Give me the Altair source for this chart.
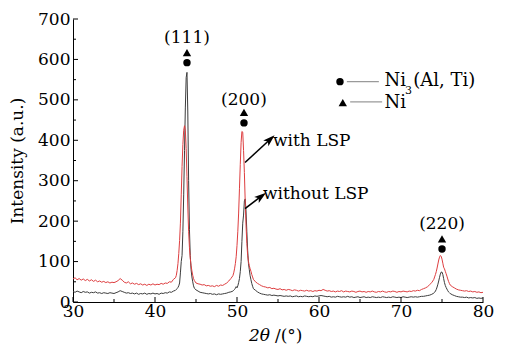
import altair as alt
import pandas as pd

# ---------------- data ----------------
# Each curve is stored in segments: (start angle, step, intensities)
red_a = [57, 60, 55, 58, 54, 57, 53, 56, 52, 55, 51, 54, 50, 52, 49, 51, 48, 50, 47, 49,
         48, 50, 53, 58, 54, 49, 47, 50, 45, 47, 44, 46, 43, 45, 42, 44, 41, 44, 42, 45,
         42, 44, 43, 46, 44, 47, 46, 50, 49, 56, 60]
red_b = [66, 78, 95, 120, 152, 195, 265, 335, 390, 425, 436, 425, 380, 310, 235, 175,
         135, 108, 90, 77, 66, 58, 53]
red_c = [47, 45, 44, 42, 43, 40, 41, 39, 40, 38, 41, 39, 42, 41, 44, 47, 52, 58, 65]
red_d = [72, 82, 95, 112, 140, 175, 220, 280, 340, 395, 422, 420, 375, 320, 250, 190,
         145, 115, 100, 90, 82, 76, 68, 62, 56]
red_e = [50, 46, 43, 40, 38, 37, 35, 36, 33, 34, 32, 31, 33, 30, 31, 29, 31, 30, 28, 30,
         29, 27, 29, 28, 27, 29, 27, 28, 26, 28, 27, 29, 28, 31, 29, 27, 28, 26, 27, 25,
         27, 26, 28, 25, 27, 26, 25, 27, 26, 24, 26, 27, 25, 26, 24, 26, 25, 27, 25, 24,
         26, 25, 27, 25, 24, 26, 25, 27, 26, 24, 26, 25, 27, 26, 25, 27, 26, 28, 27, 29,
         28, 31, 33, 35, 38, 43, 48, 56]
red_f = [62, 68, 75, 84, 94, 104, 111, 115, 113, 106, 96, 86, 82, 76, 70, 64, 57, 51, 46]
red_g = [42, 38, 35, 32, 30, 29, 28, 27, 28, 26, 27, 25, 26, 24, 25, 23, 24]

gray_a = [26, 24, 27, 25, 23, 26, 24, 25, 22, 24, 23, 25, 22, 23, 21, 23, 22, 21, 23, 22,
          21, 23, 25, 28, 26, 24, 22, 23, 21, 22, 20, 22, 19, 21, 20, 22, 19, 21, 20, 22,
          20, 21, 19, 22, 21, 23, 22, 25, 24, 27, 29]
gray_b = [31, 33, 36, 40, 47, 72, 100, 115, 175, 265, 375, 480, 555, 568, 470, 300,
          180, 115, 80, 62, 50, 40, 34]
gray_c = [30, 27, 24, 23, 22, 21, 20, 21, 19, 20, 18, 20, 19, 20, 21, 22, 24, 25, 27]
gray_d = [29, 31, 34, 38, 35, 40, 48, 58, 75, 100, 150, 195, 215, 250, 255, 225,
          175, 128, 95, 80, 65, 55, 46, 39, 33]
gray_e = [29, 25, 22, 20, 19, 18, 17, 18, 16, 17, 16, 15, 16, 15, 14, 15, 14, 15, 13, 14,
          15, 13, 14, 13, 15, 14, 13, 14, 13, 15, 14, 15, 16, 15, 14, 13, 14, 12, 13, 12,
          14, 13, 12, 13, 12, 14, 12, 13, 11, 12, 13, 11, 12, 13, 11, 12, 11, 13, 12, 11,
          12, 11, 13, 12, 11, 12, 11, 13, 12, 11, 12, 11, 13, 12, 11, 12, 13, 12, 13, 12,
          13, 14, 14, 15, 16, 17, 19, 22]
gray_f = [24, 27, 31, 37, 44, 52, 61, 69, 74, 74, 68, 58, 48, 41, 36, 32, 28, 25, 23]
gray_g = [21, 18, 16, 14, 13, 12, 12, 11, 12, 10, 11, 10, 11, 9, 10, 9, 10]

seg_starts = [30.0, 42.6, 45.0, 49.6, 52.25, 74.1, 76.0]
seg_steps = [0.25, 0.1, 0.25, 0.1, 0.25, 0.1, 0.25]

# peak labels and phase markers
peak_labels = ["(111)", "(200)", "(220)"]
peak_angle = [43.9, 50.85, 75.0]
label_int = [652, 500, 194]
tri_int = [617, 469, 156]
circ_int = [592, 443, 131]

# legend
legend_names = ["Ni", "Ni"]
legend_angle_sym = [62.56, 62.9]
legend_int = [545, 493]

# arrows (tail -> head) and their texts
arrow_x = [50.98, 50.98]
arrow_y = [345, 231]
arrow_x2 = [54.02, 52.93]
arrow_y2 = [402, 261]
arrow_rot = [47, 53]
arrow_text = ["with LSP", "without LSP"]
arrow_text_x = [54.39, 53.17]
arrow_text_y = [399, 268]

y_major = [0, 100, 200, 300, 400, 500, 600, 700]
y_minor = [50, 150, 250, 350, 450, 550, 650]
x_major = [30, 40, 50, 60, 70, 80]
x_minor = [35, 45, 55, 65, 75]

# ---------------- build tables ----------------
def build(segs, name):
    rows = []
    for start, step, vals in zip(seg_starts, seg_steps, segs):
        for i, v in enumerate(vals):
            rows.append({"angle": round(start + i * step, 3), "intensity": v, "series": name})
    return rows

red_df = pd.DataFrame(build([red_a, red_b, red_c, red_d, red_e, red_f, red_g], "with LSP"))
gray_df = pd.DataFrame(build([gray_a, gray_b, gray_c, gray_d, gray_e, gray_f, gray_g], "without LSP"))

W, H = 410, 283
FONT = "DejaVu Serif"

xs = alt.Scale(domain=[30, 80], nice=False, zero=False)
ys = alt.Scale(domain=[0, 700], nice=False)

x_enc = alt.X("angle:Q", scale=xs,
              axis=alt.Axis(values=x_major, title=None, labelPadding=1, ticks=False,
                            tickSize=0, grid=False, labelFlush=False))
y_enc = alt.Y("intensity:Q", scale=ys,
              axis=alt.Axis(values=y_major, title=None, labelPadding=3, ticks=False,
                            tickSize=0, grid=False, labelFlush=False))

gray_line = alt.Chart(gray_df).mark_line(color="#3c3c3c", strokeWidth=1.0).encode(
    x=x_enc, y=y_enc)
red_line = alt.Chart(red_df).mark_line(color="#de3e40", strokeWidth=1.0).encode(
    x="angle:Q", y="intensity:Q")

# inward ticks
ymaj = alt.Chart(pd.DataFrame({"intensity": y_major})).mark_rule(color="black", strokeWidth=1).encode(
    y="intensity:Q", x=alt.value(0), x2=alt.value(5))
ymin = alt.Chart(pd.DataFrame({"intensity": y_minor})).mark_rule(color="black", strokeWidth=1).encode(
    y="intensity:Q", x=alt.value(0), x2=alt.value(3))
xmaj = alt.Chart(pd.DataFrame({"angle": x_major})).mark_rule(color="black", strokeWidth=1).encode(
    x="angle:Q", y=alt.value(H), y2=alt.value(H - 5))
xmin = alt.Chart(pd.DataFrame({"angle": x_minor})).mark_rule(color="black", strokeWidth=1).encode(
    x="angle:Q", y=alt.value(H), y2=alt.value(H - 3))

pk = pd.DataFrame({"label": peak_labels, "angle": peak_angle, "lab": label_int,
                   "tri": tri_int, "circ": circ_int})
pk_text = alt.Chart(pk).mark_text(font=FONT, fontSize=17, color="black", baseline="middle").encode(
    x="angle:Q", y=alt.Y("lab:Q"), text="label:N")
pk_tri = alt.Chart(pk).mark_point(shape="triangle-up", filled=True, size=70, color="black", opacity=1).encode(
    x="angle:Q", y=alt.Y("tri:Q"))
pk_circ = alt.Chart(pk).mark_point(shape="circle", filled=True, size=55, color="black", opacity=1).encode(
    x="angle:Q", y=alt.Y("circ:Q"))

# arrows
ar = pd.DataFrame({"x": arrow_x, "y": arrow_y, "x2": arrow_x2, "y2": arrow_y2,
                   "rot": arrow_rot, "t": arrow_text, "tx": arrow_text_x, "ty": arrow_text_y})
ar_line = alt.Chart(ar).mark_rule(color="black", strokeWidth=1.6).encode(
    x=alt.X("x:Q"), y=alt.Y("y:Q"), x2="x2:Q", y2="y2:Q")
ar_head = alt.Chart(ar).mark_point(shape="M0,-1L0.6,0.9L0,0.45L-0.6,0.9Z", filled=True,
                                   size=160, color="black", opacity=1).encode(
    x=alt.X("x2:Q"), y=alt.Y("y2:Q"), angle=alt.Angle("rot:Q", scale=None))
ar_text = alt.Chart(ar).mark_text(font=FONT, fontSize=17, color="black", align="left",
                                  baseline="middle").encode(
    x=alt.X("tx:Q"), y=alt.Y("ty:Q"), text="t:N")

# legend
lg = pd.DataFrame({"angle": legend_angle_sym, "intensity": legend_int})
lg_circ = alt.Chart(lg.iloc[[0]]).mark_point(shape="circle", filled=True, size=55, color="black",
                                              opacity=1).encode(x="angle:Q", y="intensity:Q")
lg_tri = alt.Chart(lg.iloc[[1]]).mark_point(shape="triangle-up", filled=True, size=70, color="black",
                                             opacity=1).encode(x="angle:Q", y="intensity:Q")
lg_lines = alt.Chart(pd.DataFrame({"a": [63.4, 63.8], "a2": [67.3, 67.7], "i": [545, 495]})).mark_rule(
    color="#9a9a9a", strokeWidth=1.2).encode(x="a:Q", x2="a2:Q", y="i:Q")
lg_text = alt.Chart(pd.DataFrame({"a": [68.0, 68.0], "i": [546, 492], "t": legend_names})).mark_text(
    font=FONT, fontSize=18, color="black", align="left", baseline="middle").encode(
    x="a:Q", y="i:Q", text="t:N")
lg_sub = alt.Chart(pd.DataFrame({"a": [70.5], "i": [522], "t": ["3"]})).mark_text(
    font=FONT, fontSize=11, color="black", align="left", baseline="middle").encode(
    x="a:Q", y="i:Q", text="t:N")
lg_rest = alt.Chart(pd.DataFrame({"a": [71.5], "i": [546], "t": ["(Al, Ti)"]})).mark_text(
    font=FONT, fontSize=18, color="black", align="left", baseline="middle").encode(
    x="a:Q", y="i:Q", text="t:N")

# axis titles
y_title = alt.Chart(pd.DataFrame({"t": ["Intensity (a.u.)"]})).mark_text(
    font=FONT, fontSize=17, color="black", angle=270, baseline="middle").encode(
    x=alt.value(-55), y=alt.value(142), text="t:N")
x_title1 = alt.Chart(pd.DataFrame({"t": ["2θ"]})).mark_text(
    font=FONT, fontSize=17, fontStyle="italic", color="black", align="right", baseline="middle").encode(
    x=alt.value(197), y=alt.value(317), text="t:N")
x_title2 = alt.Chart(pd.DataFrame({"t": ["/(°)"]})).mark_text(
    font=FONT, fontSize=17, color="black", align="left", baseline="middle").encode(
    x=alt.value(202), y=alt.value(317), text="t:N")

chart = alt.layer(
    gray_line, red_line, ymaj, ymin, xmaj, xmin,
    pk_text, pk_tri, pk_circ, ar_line, ar_head, ar_text,
    lg_lines, lg_circ, lg_tri, lg_text, lg_sub, lg_rest,
    y_title, x_title1, x_title2,
).properties(
    width=W, height=H,
    autosize=alt.AutoSizeParams(type="none"),
    padding={"left": 65, "top": 11, "right": 16, "bottom": 46},
    background="white",
).configure_view(stroke=None).configure_axis(
    labelFont=FONT, labelFontSize=17, labelColor="black",
    domainColor="black", domainWidth=1,
)

chart.save("out.html", embed_options={"renderer": "svg", "actions": False})
